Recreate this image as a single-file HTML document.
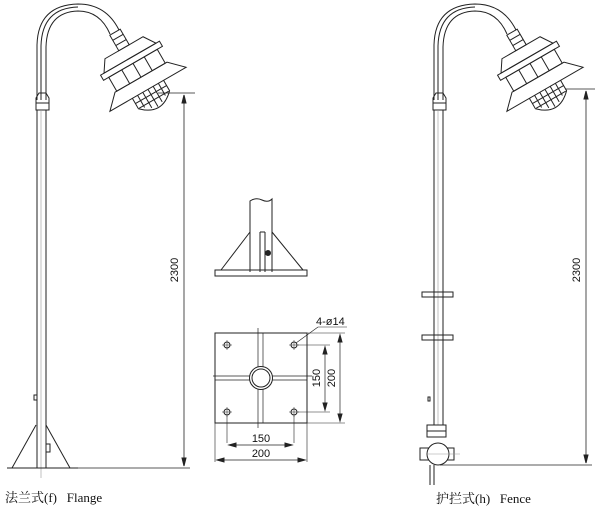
<!DOCTYPE html>
<html><head><meta charset="utf-8"><style>
html,body{margin:0;padding:0;background:#fff;}
svg{display:block;}
text{font-family:"Liberation Sans",sans-serif;fill:#111;}
.cn{font-family:"Liberation Serif","Noto Serif CJK SC",serif;white-space:pre;}
</style></head><body>
<svg width="600" height="513" viewBox="0 0 600 513" xmlns="http://www.w3.org/2000/svg" fill="none" stroke="#222" stroke-width="1">
<defs>
<g id="lamp">
  <path d="M37 100 L37 45 Q38 5 78 4 Q106 4 119 30"/>
  <path d="M46 100 L46 47 Q47 12 78 11 Q100 11 110 34"/>
  <path d="M41 100 L41 46 Q42 8 78 7"/>
  <path d="M36 98 L39 93 L46 93 L49 98 L49 110 L36 110 Z"/>
  <line x1="36" y1="103" x2="49" y2="103"/>
  <g transform="translate(0 -6) rotate(-30 138 78)">
    <rect x="132" y="32" width="12" height="18"/>
    <line x1="132" y1="38" x2="144" y2="38"/>
    <line x1="132" y1="44" x2="144" y2="44"/>
    <path d="M108 62 L116 50 L160 50 L168 62 Z"/>
    <rect x="104" y="62" width="68" height="6"/>
    <rect x="110" y="68" width="56" height="16"/>
    <line x1="125" y1="68" x2="125" y2="84"/><line x1="138" y1="68" x2="138" y2="84"/><line x1="151" y1="68" x2="151" y2="84"/>
    <path d="M108 84 L168 84 L182 98 L94 98 Z"/>
    <path d="M120 98 L120 110 Q138 128 156 110 L156 98"/>
    <path d="M126 98 L126 112 M132 98 L132 116 M138 98 L138 118 M144 98 L144 116 M150 98 L150 112"/>
    <path d="M120 104 L156 104 M121 110 L155 110"/>
  </g>
</g>
</defs>

<use href="#lamp"/>
<line x1="37" y1="110" x2="37" y2="468"/>
<line x1="46" y1="110" x2="46" y2="468"/>
<line x1="41" y1="110" x2="41" y2="478" stroke="#999" stroke-width="0.6"/>
<rect x="34" y="395" width="3" height="5"/>
<rect x="46" y="444" width="4" height="8"/>
<line x1="7" y1="468" x2="78" y2="468"/>
<line x1="12" y1="468" x2="36" y2="425"/>
<line x1="46" y1="425" x2="70" y2="468"/>
<line x1="158" y1="93" x2="195" y2="93" stroke-width="0.7"/>
<line x1="78" y1="468" x2="190" y2="468" stroke-width="0.7"/>
<line x1="184" y1="95" x2="184" y2="466" stroke-width="0.8"/>
<path d="M184 95 l-2 8 l4 0 z M184 466 l-2 -8 l4 0 z" fill="#222"/>
<text x="178" y="270" font-size="11" transform="rotate(-90 178 270)" text-anchor="middle" stroke="none">2300</text>
<text x="5" y="502" font-size="13" class="cn" stroke="none">法兰式(f)   Flange</text>

<path d="M250 272 L250 201 Q256 197 262 200 Q268 203 272 199 L272 272"/>
<line x1="260" y1="232" x2="260" y2="272"/>
<line x1="265" y1="232" x2="265" y2="272"/>
<line x1="260" y1="232" x2="265" y2="232"/>
<circle cx="268" cy="253" r="2.5" fill="#222"/>
<line x1="250" y1="232" x2="221" y2="270"/>
<line x1="272" y1="232" x2="303" y2="270"/>
<rect x="215" y="270" width="92" height="6"/>
<rect x="215" y="333" width="92" height="90"/>
<line x1="258" y1="328" x2="258" y2="428" stroke-width="0.7"/>
<line x1="263" y1="333" x2="263" y2="423" stroke-width="0.7"/>
<line x1="213" y1="376" x2="312" y2="376" stroke-width="0.7"/>
<line x1="215" y1="380" x2="307" y2="380" stroke-width="0.7"/>
<circle cx="261" cy="378" r="11.5" fill="#fff"/>
<circle cx="261" cy="378" r="9"/>
<circle cx="227" cy="345" r="3"/><circle cx="294" cy="345" r="3"/>
<circle cx="227" cy="412" r="3"/><circle cx="294" cy="412" r="3"/>
<path d="M222 345 h10 M227 340 v10 M289 345 h10 M294 340 v10 M222 412 h10 M227 407 v10 M289 412 h10 M294 407 v10" stroke-width="0.5"/>
<line x1="296" y1="343" x2="318" y2="327" stroke-width="0.6"/>
<line x1="318" y1="327" x2="347" y2="327" stroke-width="0.6"/>
<text x="316" y="325" font-size="11" stroke="none">4-ø14</text>
<line x1="298" y1="345" x2="330" y2="345" stroke-width="0.6"/>
<line x1="298" y1="412" x2="330" y2="412" stroke-width="0.6"/>
<line x1="325" y1="347" x2="325" y2="410" stroke-width="0.7"/>
<path d="M325 347 l-2 7 h4 z M325 410 l-2 -7 h4 z" fill="#222"/>
<text x="320" y="378" font-size="11" transform="rotate(-90 320 378)" text-anchor="middle" stroke="none">150</text>
<line x1="307" y1="333" x2="345" y2="333" stroke-width="0.6"/>
<line x1="307" y1="423" x2="345" y2="423" stroke-width="0.6"/>
<line x1="340" y1="335" x2="340" y2="421" stroke-width="0.7"/>
<path d="M340 335 l-2 7 h4 z M340 421 l-2 -7 h4 z" fill="#222"/>
<text x="335" y="378" font-size="11" transform="rotate(-90 335 378)" text-anchor="middle" stroke="none">200</text>
<line x1="227" y1="416" x2="227" y2="443" stroke-width="0.6"/>
<line x1="294" y1="416" x2="294" y2="443" stroke-width="0.6"/>
<line x1="229" y1="445" x2="292" y2="445" stroke-width="0.7"/>
<path d="M229 445 l7 -2 v4 z M292 445 l-7 -2 v4 z" fill="#222"/>
<text x="261" y="442" font-size="11" text-anchor="middle" stroke="none">150</text>
<line x1="215" y1="423" x2="215" y2="462" stroke-width="0.6"/>
<line x1="307" y1="423" x2="307" y2="462" stroke-width="0.6"/>
<line x1="217" y1="460" x2="305" y2="460" stroke-width="0.7"/>
<path d="M217 460 l7 -2 v4 z M305 460 l-7 -2 v4 z" fill="#222"/>
<text x="261" y="457" font-size="11" text-anchor="middle" stroke="none">200</text>

<use href="#lamp" transform="translate(397 0)"/>
<line x1="434" y1="110" x2="434" y2="425"/>
<line x1="443" y1="110" x2="443" y2="425"/>
<line x1="438" y1="110" x2="438" y2="425" stroke="#999" stroke-width="0.6"/>
<rect x="422" y="292" width="31" height="5"/>
<rect x="422" y="335" width="31" height="5"/>
<rect x="428" y="397" width="2" height="4"/>
<rect x="427" y="425" width="19" height="12"/>
<line x1="427" y1="431" x2="446" y2="431"/>
<rect x="420" y="448" width="34" height="12"/>
<circle cx="438" cy="454" r="11" fill="#fff"/>
<line x1="427" y1="454" x2="460" y2="454" stroke="#999" stroke-width="0.5"/>
<line x1="430" y1="465" x2="430" y2="485"/>
<line x1="434" y1="465" x2="434" y2="485"/>
<line x1="440" y1="465" x2="592" y2="465" stroke-width="0.7"/>
<line x1="565" y1="89" x2="595" y2="89" stroke-width="0.7"/>
<line x1="586" y1="91" x2="586" y2="463" stroke-width="0.8"/>
<path d="M586 91 l-2 8 h4 z M586 463 l-2 -8 h4 z" fill="#222"/>
<text x="580" y="270" font-size="11" transform="rotate(-90 580 270)" text-anchor="middle" stroke="none">2300</text>
<text x="436" y="503" font-size="13" class="cn" stroke="none">护拦式(h)   Fence</text>
</svg>
</body></html>
